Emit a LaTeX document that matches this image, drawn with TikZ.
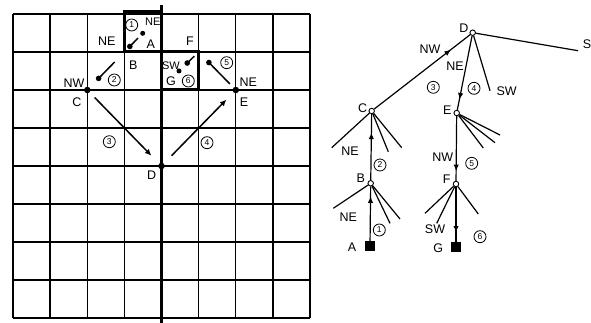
\documentclass[tikz,border=0pt]{standalone}
\usepackage{fontspec}
\setmainfont{Liberation Sans}
\usetikzlibrary{arrows.meta,decorations.markings}
\tikzset{
  lab/.style={font=\fontsize{12.5}{12.5}\selectfont,inner sep=0pt},
  num/.style={circle,draw,line width=0.8pt,inner sep=0pt,minimum size=12pt,
    font=\fontsize{8.5}{8.5}\selectfont},
  gridline/.style={line width=1.3pt},
  boldline/.style={line width=3pt},
  bigdot/.style={circle,fill=black,inner sep=0pt,minimum size=6.5pt},
  smalldot/.style={circle,fill=black,inner sep=0pt,minimum size=5pt},
  longmove/.style={line width=1.5pt,-{Latex[length=6.5pt,width=6pt]}},
  shortmove/.style={line width=1.5pt,-{Circle[length=5.5pt]}},
  tn/.style={circle,draw,fill=white,inner sep=0pt,minimum size=5.5pt,line width=0.9pt},
  leaf/.style={fill=black,inner sep=0pt,minimum size=10pt},
  edge/.style={line width=1.2pt},
  step arrow/.style={edge,postaction={decorate},
    decoration={markings,mark=at position #1 with {\arrow{Latex[length=6.5pt,width=5.5pt]}}}},
}
\begin{document}
\begin{tikzpicture}[x=1pt,y=-1pt]
\useasboundingbox (0,0) rectangle (591,323);

% ---------- grid board ----------
\foreach \i in {0,...,8} {
  \draw[gridline] (13+37.125*\i,14) -- (13+37.125*\i,318);
  \draw[gridline] (13,14+38*\i) -- (310,14+38*\i);
}
\draw[line width=3.5pt] (161.5,5) -- (161.5,323);
\draw[boldline] (124.4,12) rectangle (161.5,52);
\draw[boldline] (161.5,52) rectangle (198.6,90);

% lattice points
\node[smalldot] (gA) at (142.7,33.3) {};
\coordinate (gB) at (124.4,52);
\node[bigdot] (gC) at (87.3,90) {};
\node[bigdot] (gD) at (161.5,166) {};
\node[bigdot] (gE) at (235.8,90) {};
\coordinate (gF) at (198.6,52);
\node[smalldot] (gG) at (179,71) {};

% moves
\draw[shortmove,shorten <=4pt,shorten >=5pt] (gA) -- (gB);
\draw[shortmove,shorten <=14pt,shorten >=10pt] (gB) -- (gC);
\draw[longmove,shorten <=7pt,shorten >=11pt] (gC) -- (gD);
\draw[longmove,shorten <=11pt,shorten >=10pt] (gD) -- (gE);
\draw[shortmove,shorten <=5pt,shorten >=12pt] (gE) -- (gF);
\draw[shortmove,shorten <=6pt,shorten >=6pt] (gF) -- (gG);

% board labels
\node[num] (n1) at (131.7,25) {1};
\node[lab,font=\fontsize{11}{11}\selectfont] (lNEa) at (152.7,22) {NE};
\node[lab] (lA) at (150.7,44.3) {A};
\node[lab] (lNEb) at (106.7,41.7) {NE};
\node[lab] (lB) at (133.3,65) {B};
\node[lab] (lF) at (190,41.7) {F};
\node[num] (n2) at (114.3,80) {2};
\node[lab] (lNW) at (74,83) {NW};
\node[lab] (lC) at (77,102) {C};
\node[lab,font=\fontsize{11}{11}\selectfont] (lSW) at (171,66) {SW};
\node[lab] (lG) at (171,81) {G};
\node[num] (n6) at (188.3,81) {6};
\node[num] (n5) at (226.7,62.7) {5};
\node[lab] (lNEc) at (248.3,82.7) {NE};
\node[lab] (lE) at (244,102.7) {E};
\node[num] (n3) at (109.3,141.7) {3};
\node[num] (n4) at (207,142.7) {4};
\node[lab] (lD) at (151.7,175) {D};

% ---------- search tree ----------
\node[tn] (D) at (472.7,32.7) {};
\node[tn] (C) at (371.7,111) {};
\node[tn] (E) at (456.7,113) {};
\node[tn] (B) at (370.7,183.3) {};
\node[tn] (F) at (456,184) {};
\node[leaf] (A) at (370,246) {};
\node[leaf] (G) at (456,247) {};

% unexplored branches
\coordinate (dS) at (578,50.7);
\coordinate (dSW) at (490,90.7);
\coordinate (c1) at (331.7,147.7);
\coordinate (c2) at (388.3,151.7);
\coordinate (c3) at (401.7,147.7);
\coordinate (e1) at (500,135);
\coordinate (e2) at (495,142.7);
\coordinate (e3) at (483.3,148);
\coordinate (b1) at (333.3,208.3);
\coordinate (b2) at (390,223.3);
\coordinate (b3) at (400,219);
\coordinate (f1) at (425,213.3);
\coordinate (f2) at (436.7,223.3);
\coordinate (f3) at (478.3,214);
\foreach \p/\q in {D/dS,D/dSW,C/c1,C/c2,C/c3,E/e1,E/e2,E/e3,B/b1,B/b2,B/b3,F/f1,F/f2,F/f3}
  \draw[edge] (\p) -- (\q);

% path taken
\draw[step arrow=0.82] (A) -- (B);
\draw[step arrow=0.72] (B) -- (C);
\draw[step arrow=0.8] (C) -- (D);
\draw[step arrow=0.86] (D) -- (E);
\draw[step arrow=0.85] (E) -- (F);
\draw[step arrow=0.83] (F) -- (G);

% tree labels
\node[lab] (tD) at (464,28) {D};
\node[lab] (tS) at (587,44) {S};
\node[lab] (tNWa) at (430,49) {NW};
\node[lab] (tNEa) at (455,66.7) {NE};
\node[num] (t3) at (433.3,87.3) {3};
\node[num] (t4) at (474,88.3) {4};
\node[lab] (tSWa) at (506.7,90.7) {SW};
\node[lab] (tC) at (362.7,108.3) {C};
\node[lab] (tE) at (447.3,110) {E};
\node[lab] (tNEb) at (350,151) {NE};
\node[num] (t2) at (380,165) {2};
\node[lab] (tB) at (360.7,178.3) {B};
\node[lab] (tNWb) at (442.7,157.3) {NW};
\node[num] (t5) at (471.7,163.3) {5};
\node[lab] (tF) at (446.7,179.3) {F};
\node[lab] (tNEc) at (348.3,216.7) {NE};
\node[num] (t1) at (379.3,230) {1};
\node[lab] (tA) at (352,246.7) {A};
\node[lab] (tSWb) at (435,229.3) {SW};
\node[num] (t6) at (480,236.7) {6};
\node[lab] (tG) at (438.3,248.3) {G};
\end{tikzpicture}
\end{document}
